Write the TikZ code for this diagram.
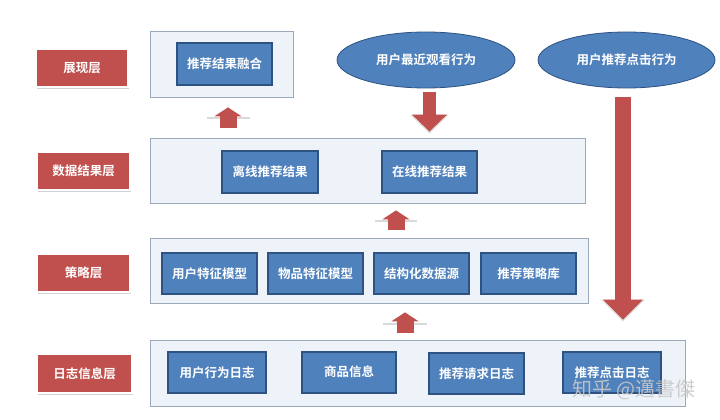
\documentclass[tikz,border=0pt]{standalone}
\usepackage{fontspec}
\newfontfamily\cjk{Noto Sans CJK SC}[BoldFont={Noto Sans CJK SC Bold}]
\usetikzlibrary{shadows,arrows.meta,shapes.geometric,calc}
\definecolor{lred}{HTML}{C0504D}
\definecolor{bblue}{HTML}{4F81BD}
\definecolor{bborder}{HTML}{2E5282}
\definecolor{ffill}{HTML}{EEF3FA}
\definecolor{fborder}{HTML}{9AAABB}
\tikzset{
  txt/.style={text=white,font=\cjk\bfseries\fontsize{12.5}{14}\selectfont},
  layerlabel/.style={txt,fill=lred,draw=white,line width=1.2pt,minimum width=93pt,minimum height=38pt,inner sep=0pt,
    drop shadow={shadow xshift=1.2pt,shadow yshift=-1.6pt,opacity=0.35}},
  frame/.style={fill=ffill,draw=fborder,line width=0.8pt,inner sep=0pt},
  bluebox/.style={txt,fill=bblue,draw=bborder,line width=1.1pt,minimum width=95pt,minimum height=41pt,inner sep=0pt},
  userell/.style={txt,ellipse,fill=bblue,draw=bborder,line width=0.8pt,minimum width=178pt,minimum height=56pt,inner sep=0pt},
  uparrow/.style={draw=lred,line width=17pt,-{Triangle[width=27pt,length=9pt]}},
}
\begin{document}
\begin{tikzpicture}[x=1pt,y=-1pt]
\useasboundingbox[fill=white] (0,0) rectangle (720,420);
% frames
\node[frame,minimum width=143pt,minimum height=66pt] (F1) at (221.5,64) {};
\node[frame,minimum width=435pt,minimum height=65pt] (F2) at (367.5,170.5) {};
\node[frame,minimum width=438pt,minimum height=65pt] (F3) at (369,270.5) {};
\node[frame,minimum width=535pt,minimum height=66pt] (F4) at (417.5,373) {};
% layer labels
\node[layerlabel,minimum width=92pt] (L1) at (82,68) {展现层};
\node[layerlabel] (L2) at (83.5,171) {数据结果层};
\node[layerlabel] (L3) at (83.5,273) {策略层};
\node[layerlabel,minimum width=95pt,minimum height=39pt] (L4) at (84.5,373.5) {日志信息层};
% blue boxes
\node[bluebox,minimum height=42pt] (B1) at (224.5,64) {推荐结果融合};
\node[bluebox,minimum width=96pt,minimum height=42pt] (B2) at (270,172) {离线推荐结果};
\node[bluebox,minimum height=42pt] (B3) at (429.5,172) {在线推荐结果};
\node[bluebox] (B4) at (209.5,273.5) {用户特征模型};
\node[bluebox] (B5) at (315.5,273.5) {物品特征模型};
\node[bluebox] (B6) at (421.5,273.5) {结构化数据源};
\node[bluebox] (B7) at (528.5,273.5) {推荐策略库};
\node[bluebox,minimum width=98pt] (B8) at (217,372.5) {用户行为日志};
\node[bluebox,minimum width=94pt] (B9) at (349,372.5) {\raisebox{3pt}{商品信息}};
\node[bluebox] (B10) at (476.5,373.5) {推荐请求日志};
\node[bluebox,minimum width=98pt] (B11) at (612,372.5) {推荐点击日志};
% ellipses
\node[userell] (E1) at (426,60) {用户最近观看行为};
\node[userell,minimum width=177pt] (E2) at (626.5,60) {用户推荐点击行为};
% helper x positions
\coordinate (x1) at (228,0);
\coordinate (x2) at (396,0);
\coordinate (x3) at (405,0);
% faint shadows under up arrows
\draw[black!15,line width=1.2pt] (207,118) -- (250,118);
\draw[black!15,line width=1.2pt] (375,221) -- (417,221);
\draw[black!15,line width=1.2pt] (383,324) -- (427,324);
% up arrows
\draw[uparrow,shorten <=10pt,shorten >=10pt] (x1 |- F2.north) -- (x1 |- F1.south);
\draw[uparrow,shorten <=8pt,shorten >=7pt] (x2 |- F3.north) -- (x2 |- F2.south);
\draw[uparrow,shorten <=7pt,shorten >=9pt] (x3 |- F4.north) -- (x3 |- F3.south);
% down arrows
\draw[draw=black!12,line width=13pt,-{Triangle[width=38pt,length=19pt]},shorten <=4pt,shorten >=4pt] ($(E1.south)+(3.5,0)$) -- ($(E1.south |- F2.north)+(3.5,0)$);
\draw[draw=lred,line width=13pt,-{Triangle[width=34pt,length=17pt]},shorten <=4pt,shorten >=6pt] ($(E1.south)+(3.5,0)$) -- ($(E1.south |- F2.north)+(3.5,0)$);
\draw[draw=black!12,line width=16pt,-{Triangle[width=43pt,length=22pt]},shorten <=9pt,shorten >=18pt] ($(E2.south)+(-3.5,0)$) -- ($(E2.south |- F4.north)+(-3.5,0)$);
\draw[draw=lred,line width=16pt,-{Triangle[width=39pt,length=20pt]},shorten <=9pt,shorten >=20pt] ($(E2.south)+(-3.5,0)$) -- ($(E2.south |- F4.north)+(-3.5,0)$);
% watermark
\node[text=black!22,font=\cjk\fontsize{20}{22}\selectfont,opacity=0.9] (wm) at (634,390) {知乎 @邁書傑};
\end{tikzpicture}
\end{document}
